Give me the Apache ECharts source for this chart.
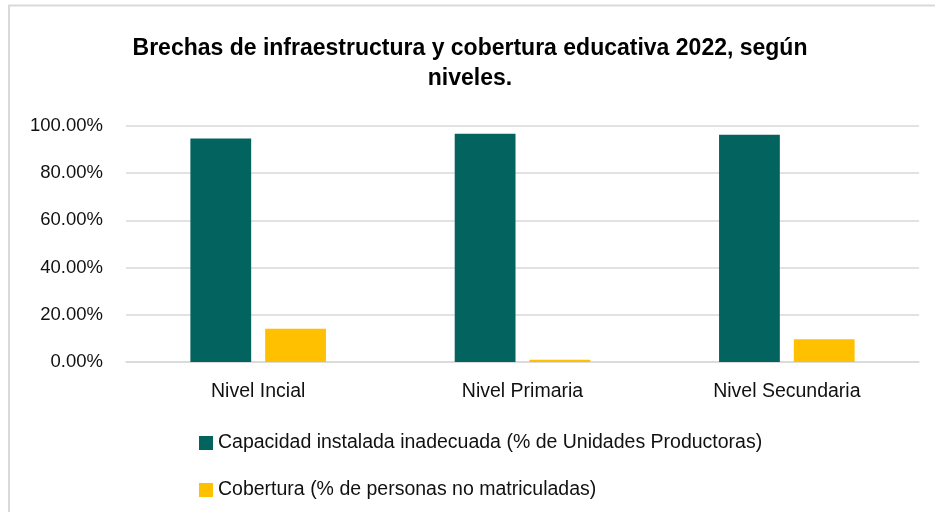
<!DOCTYPE html>
<html>
<head>
<meta charset="utf-8">
<script src="https://cdn.jsdelivr.net/npm/echarts@6/dist/echarts.min.js"></script>
<style>
  html, body { margin: 0; padding: 0; background: #fff; }
  #mainChart { width: 935px; height: 512px; }
</style>
</head>
<body>
<div id="mainChart"></div>
<script>
// niveles (se mantiene el texto original)
var categories = ['Nivel Incial', 'Nivel Primaria', 'Nivel Secundaria'];
// % de Unidades Productoras con capacidad instalada inadecuada
var capacidad = [94.7, 96.7, 96.3];
// % de personas no matriculadas
var cobertura = [14.1, 1.0, 9.6];
var yTicks = [0, 20, 40, 60, 80, 100];
var seriesNames = [
  'Capacidad instalada inadecuada (% de Unidades Productoras)',
  'Cobertura (% de personas no matriculadas)'
];
var colors = ['#03645f', '#ffc000'];

var myChart = echarts.init(document.getElementById('mainChart'));
var font = 'Liberation Sans, Arial, sans-serif';

var option = {
  backgroundColor: '#fff',
  color: colors,
  animation: false,
  title: {
    text: 'Brechas de infraestructura y cobertura educativa 2022, según\nniveles.',
    left: 470,
    textAlign: 'center',
    top: 34,
    padding: 0,
    textStyle: {
      fontFamily: font,
      fontSize: 23,
      fontWeight: 'bold',
      color: '#000',
      lineHeight: 30
    }
  },
  legend: {
    orient: 'vertical',
    left: 199,
    top: 433,
    padding: 0,
    itemWidth: 14,
    itemHeight: 14,
    itemGap: 27,
    icon: 'rect',
    data: seriesNames,
    textStyle: {
      fontFamily: font,
      fontSize: 19.5,
      color: '#111',
      lineHeight: 20
    }
  },
  grid: {
    left: 126,
    right: 16,
    top: 126,
    bottom: 150
  },
  xAxis: {
    type: 'category',
    data: categories,
    axisTick: { show: false },
    axisLine: { lineStyle: { color: '#d9d9d9', width: 1.5 } },
    axisLabel: {
      fontFamily: font,
      fontSize: 19.5,
      color: '#111',
      margin: 20
    }
  },
  yAxis: {
    type: 'value',
    min: yTicks[0],
    max: yTicks[yTicks.length - 1],
    interval: 20,
    axisLine: { show: false },
    axisTick: { show: false },
    splitLine: { lineStyle: { color: '#d9d9d9', width: 1.5 } },
    axisLabel: {
      fontFamily: font,
      fontSize: 18.5,
      color: '#111',
      margin: 23,
      formatter: function (v) { return v.toFixed(2) + '%'; }
    }
  },
  series: [
    {
      name: seriesNames[0],
      type: 'bar',
      data: capacidad,
      barWidth: '23%',
      barGap: '23%'
    },
    {
      name: seriesNames[1],
      type: 'bar',
      data: cobertura,
      barWidth: '23%'
    }
  ],
  graphic: [
    {
      type: 'polyline',
      silent: true,
      shape: { points: [[9, 520], [9, 5.5], [940, 5.5]] },
      style: { stroke: '#d9d9d9', lineWidth: 2, fill: null }
    }
  ]
};

myChart.setOption(option);
</script>
</body>
</html>
